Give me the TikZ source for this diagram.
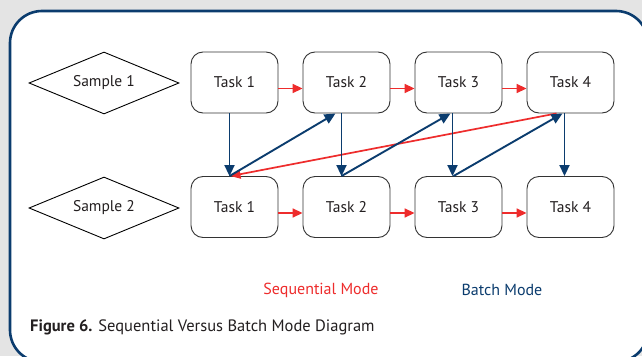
\documentclass[tikz,border=0pt]{standalone}
\usepackage{fontspec}
\setmainfont{PT Sans}
\usetikzlibrary{arrows.meta,shapes.geometric}
\definecolor{navy}{HTML}{0B3C6E}
\definecolor{redarr}{HTML}{EE2C2C}
\definecolor{bggray}{HTML}{E4E4E4}
\definecolor{boxline}{HTML}{333333}
\definecolor{txt}{HTML}{231F20}
\tikzset{
  taskbox/.style={draw=boxline,line width=0.9pt,rounded corners=12pt,minimum width=87pt,minimum height=61pt,inner sep=0pt,font=\fontsize{15.5}{17}\selectfont,text=txt},
  sample/.style={draw=black,line width=0.9pt,diamond,aspect=2.42,minimum width=150pt,minimum height=62pt,inner sep=0pt,font=\fontsize{15.5}{17}\selectfont,text=txt},
  seq/.style={draw=redarr,line width=1.7pt,-{Triangle[length=10pt,width=9pt]}},
  bat/.style={draw=navy,line width=1.9pt,-{Triangle[length=11pt,width=10pt]}},
}
\begin{document}
\begin{tikzpicture}[x=1pt,y=-1pt]
\useasboundingbox (0,0) rectangle (642,356);
\fill[bggray] (0,0) rectangle (642,356);
\draw[navy,line width=2.6pt,fill=white,rounded corners=32pt] (10,11) rectangle (648,362);
\node[sample] (s1) at (104,83) {Sample 1};
\node[sample] (s2) at (104,208) {Sample 2};
\node[taskbox] (t1) at (234.5,82.5) {Task 1};
\node[taskbox] (t2) at (346.5,82.5) {Task 2};
\node[taskbox] (t3) at (458.5,82.5) {Task 3};
\node[taskbox] (t4) at (570.5,82.5) {Task 4};
\node[taskbox] (b1) at (234.5,207) {Task 1};
\node[taskbox] (b2) at (346.5,207) {Task 2};
\node[taskbox] (b3) at (458.5,207) {Task 3};
\node[taskbox] (b4) at (570.5,207) {Task 4};
% sequential (red)
\draw[seq] ([yshift=-6pt]t1.east) -- ([yshift=-6pt]t2.west);
\draw[seq] ([yshift=-6pt]t2.east) -- ([yshift=-6pt]t3.west);
\draw[seq] ([yshift=-6pt]t3.east) -- ([yshift=-6pt]t4.west);
\draw[seq] ([yshift=-6pt]b1.east) -- ([yshift=-6pt]b2.west);
\draw[seq] ([yshift=-6pt]b2.east) -- ([yshift=-6pt]b3.west);
\draw[seq] ([yshift=-6pt]b3.east) -- ([yshift=-6pt]b4.west);
\draw[seq] ([xshift=-14pt]t4.south) -- ([xshift=-4pt]b1.north);
% batch (blue)
\draw[bat] ([xshift=-5pt]t1.south) -- ([xshift=-5pt]b1.north);
\draw[bat] ([xshift=-5pt]b1.north) -- ([xshift=-11pt]t2.south);
\draw[bat] ([xshift=-5pt]t2.south) -- ([xshift=-5pt]b2.north);
\draw[bat] ([xshift=-5pt]b2.north) -- ([xshift=-8pt]t3.south);
\draw[bat] ([xshift=-6pt]t3.south) -- ([xshift=-6pt]b3.north);
\draw[bat] ([xshift=-5pt]b3.north) -- ([xshift=-8pt]t4.south);
\draw[bat] ([xshift=-6pt]t4.south) -- ([xshift=-6pt]b4.north);
% legend & caption
\node[text=redarr,font=\fontsize{16}{18}\selectfont] (lseq) at (321,290) {Sequential Mode};
\node[text=navy,font=\fontsize{16}{18}\selectfont] (lbat) at (502,290) {Batch Mode};
\node[anchor=west,text=txt,font=\fontsize{16.5}{18}\selectfont,inner sep=0pt] (cap) at (30,327) {\textbf{Figure 6.} Sequential Versus Batch Mode Diagram};
\end{tikzpicture}
\end{document}
